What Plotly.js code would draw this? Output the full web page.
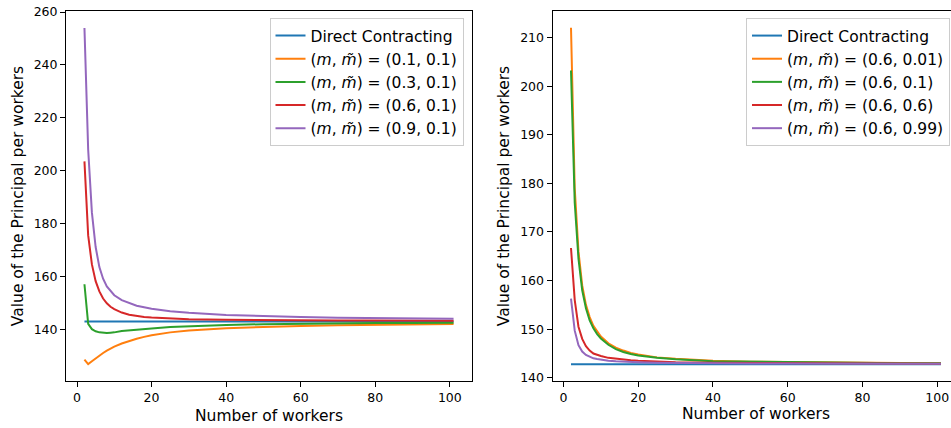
<!DOCTYPE html>
<html>
<head>
<meta charset="utf-8">
<script src="https://cdn.plot.ly/plotly-3.0.1.min.js"></script>
<style>html,body{margin:0;padding:0;background:#fff;}#chart{width:951px;height:428px;}</style>
</head>
<body>
<div id="chart"></div>
<script>
// Number of workers (sample points)
const workers = [2,3,4,5,6,7,8,9,10,12,14,16,18,20,25,30,40,50,60,70,80,90,101];

// Left panel: m varies, m~ = 0.1
const leftDirect = [142.9,142.9,142.9,142.9,142.9,142.9,142.9,142.9,142.9,142.9,142.9,142.9,142.9,142.9,142.9,142.9,142.9,142.9,142.9,142.9,142.9,142.9,142.9];
const left_01_01 = [128.5,126.8,127.9,129.0,130.0,131.0,131.9,132.7,133.4,134.6,135.6,136.4,137.1,137.7,138.8,139.5,140.4,140.9,141.2,141.5,141.7,141.9,142.0];
const left_03_01 = [157.0,142.0,140.0,139.2,138.8,138.6,138.6,138.7,138.8,139.3,139.6,139.9,140.1,140.3,140.8,141.1,141.6,141.9,142.1,142.2,142.3,142.35,142.4];
const left_06_01 = [203.5,175.5,164.5,158.2,154.3,151.6,149.8,148.5,147.6,146.3,145.5,145.0,144.6,144.4,144.0,143.8,143.55,143.4,143.35,143.3,143.25,143.2,143.2];
const left_09_01 = [254.0,207.9,184.1,171.1,163.5,159.1,156.2,154.3,152.85,151.0,149.8,148.9,148.3,147.75,146.8,146.2,145.4,144.9,144.6,144.35,144.2,144.05,143.95];

// Right panel: m = 0.6, m~ varies
const rightDirect = [142.8,142.8,142.8,142.8,142.8,142.8,142.8,142.8,142.8,142.8,142.8,142.8,142.8,142.8,142.8,142.8,142.8,142.8,142.8,142.8,142.8,142.8,142.8];
const right_06_001 = [212.0,179.0,166.0,159.0,155.0,152.5,150.7,149.5,148.5,147.1,146.2,145.6,145.1,144.8,144.2,143.9,143.5,143.3,143.2,143.15,143.1,143.05,143.0];
const right_06_01 = [203.2,176.0,164.5,158.0,154.3,151.8,150.2,149.0,148.1,146.8,145.9,145.3,144.9,144.6,144.1,143.8,143.4,143.3,143.2,143.1,143.05,143.0,143.0];
const right_06_06 = [166.7,156.0,150.5,148.0,146.5,145.6,145.0,144.7,144.5,144.1,143.9,143.7,143.6,143.5,143.3,143.2,143.1,143.05,143.0,143.0,142.95,142.95,142.9];
const right_06_099 = [156.3,149.7,146.7,145.4,144.7,144.3,144.0,143.85,143.7,143.5,143.4,143.3,143.25,143.2,143.1,143.05,143.0,142.95,142.95,142.9,142.9,142.9,142.9];

const leftNames = ['Direct Contracting','(<i>m</i>, <i>m̃</i>) = (0.1, 0.1)','(<i>m</i>, <i>m̃</i>) = (0.3, 0.1)','(<i>m</i>, <i>m̃</i>) = (0.6, 0.1)','(<i>m</i>, <i>m̃</i>) = (0.9, 0.1)'];
const rightNames = ['Direct Contracting','(<i>m</i>, <i>m̃</i>) = (0.6, 0.01)','(<i>m</i>, <i>m̃</i>) = (0.6, 0.1)','(<i>m</i>, <i>m̃</i>) = (0.6, 0.6)','(<i>m</i>, <i>m̃</i>) = (0.6, 0.99)'];
const colors = ['#1f77b4','#ff7f0e','#2ca02c','#d62728','#9467bd'];
const xTitle = 'Number of workers';
const yTitle = 'Value of the Principal per workers';

const leftSeries = [leftDirect,left_01_01,left_03_01,left_06_01,left_09_01];
const rightSeries = [rightDirect,right_06_001,right_06_01,right_06_06,right_06_099];

const traces = [];
leftSeries.forEach((ys,i)=>traces.push({x:workers,y:ys,type:'scatter',mode:'lines',name:leftNames[i],
  line:{color:colors[i],width:2},xaxis:'x',yaxis:'y',legend:'legend'}));
rightSeries.forEach((ys,i)=>traces.push({x:workers,y:ys,type:'scatter',mode:'lines',name:rightNames[i],
  line:{color:colors[i],width:2},xaxis:'x2',yaxis:'y2',legend:'legend2'}));

const font = 'DejaVu Sans, sans-serif';
const axX = {
  range:[-2.95,105.95], tickvals:[0,20,40,60,80,100], ticks:'outside', ticklen:5, tickwidth:1, tickcolor:'#000',
  showline:true, linecolor:'#000', linewidth:1, mirror:true, showgrid:false, zeroline:false,
  tickfont:{family:font,size:12.5,color:'#000'},
  title:{text:xTitle, font:{family:font,size:15.5,color:'#000'}, standoff:6}
};
const axY = {
  ticks:'outside', ticklen:5, tickwidth:1, tickcolor:'#000',
  showline:true, linecolor:'#000', linewidth:1, mirror:true, showgrid:false, zeroline:false,
  tickfont:{family:font,size:12.5,color:'#000'},
  title:{text:yTitle, font:{family:font,size:15.5,color:'#000'}, standoff:6}
};
const W=951,H=428;
const yDom=[1-381/H, 1-11/H];
const layout = {
  width:W, height:H, margin:{l:0,r:0,t:0,b:0}, paper_bgcolor:'#fff', plot_bgcolor:'#fff',
  font:{family:font,color:'#000'},
  xaxis:Object.assign({},axX,{domain:[66/W,472/W],anchor:'y'}),
  yaxis:Object.assign({},axY,{domain:yDom,anchor:'x',range:[120.4,260.4],tickvals:[140,160,180,200,220,240,260]}),
  xaxis2:Object.assign({},axX,{domain:[552.5/W,1],anchor:'y2',range:[-2.95,103.7],title:{text:''}}),
  yaxis2:Object.assign({},axY,{domain:yDom,anchor:'x2',range:[139.34,215.46],tickvals:[140,150,160,170,180,190,200,210],mirror:false}),
  annotations:[{text:xTitle,xref:'paper',yref:'paper',x:756/W,y:1-414/H,xanchor:'center',yanchor:'middle',showarrow:false,
    font:{family:font,size:15.5,color:'#000'}}],
  legend:{x:463.5/W,xanchor:'right',y:1-18/H,yanchor:'top',bgcolor:'rgba(255,255,255,0.8)',bordercolor:'#cccccc',borderwidth:1,
    font:{family:font,size:15.5,color:'#000'},tracegroupgap:0},
  legend2:{x:950/W,xanchor:'right',y:1-18/H,yanchor:'top',bgcolor:'rgba(255,255,255,0.8)',bordercolor:'#cccccc',borderwidth:1,
    font:{family:font,size:15.5,color:'#000'},tracegroupgap:0},
  showlegend:true
};
Plotly.newPlot('chart',traces,layout,{displayModeBar:false,staticPlot:true});
</script>
</body>
</html>
